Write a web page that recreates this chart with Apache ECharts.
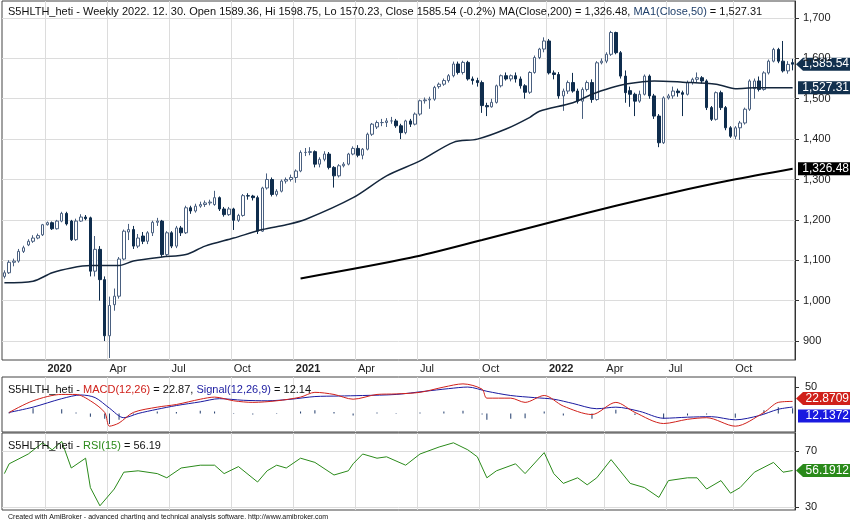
<!DOCTYPE html>
<html>
<head>
<meta charset="utf-8">
<title>S5HLTH weekly</title>
<script src="https://cdn.jsdelivr.net/npm/echarts@6/dist/echarts.min.js"></script>
<style>html,body{margin:0;padding:0;background:#fff}</style>
</head>
<body>
<div id="main" style="width:850px;height:520px"></div>
<script>
// weekly candles [open, close, low, high]
var candles = [
 [1060,1069,1055,1075],[1069,1095,1066,1100],[1095,1098,1085,1104],[1098,1122,1094,1128],[1122,1131,1118,1136],
 [1138,1147,1135,1152],[1147,1155,1143,1162],[1155,1161,1152,1166],[1163,1188,1160,1190],[1188,1193,1186,1196],
 [1193,1178,1175,1196],[1178,1197,1176,1200],[1197,1216,1194,1220],[1216,1190,1186,1220],[1197,1151,1148,1200],
 [1151,1197,1148,1203],[1197,1207,1195,1214],[1207,1203,1199,1212],[1205,1073,1060,1208],[1073,1127,1060,1160],
 [1127,1052,1000,1135],[1052,913,900,1060],[913,988,858,1010],[990,1011,975,1030],[1011,1103,1005,1108],
 [1103,1172,1100,1176],[1170,1176,1150,1190],[1176,1135,1128,1185],[1135,1155,1130,1165],[1160,1147,1140,1170],
 [1147,1168,1140,1172],[1168,1194,1160,1198],[1194,1197,1185,1205],[1197,1114,1108,1200],[1114,1168,1110,1172],
 [1168,1135,1130,1172],[1135,1180,1130,1185],[1180,1168,1160,1185],[1168,1230,1165,1235],[1230,1222,1215,1235],
 [1222,1234,1218,1240],[1234,1238,1230,1245],[1238,1242,1232,1248],[1242,1244,1236,1250],[1238,1255,1235,1272],
 [1255,1227,1222,1258],[1227,1213,1208,1232],[1213,1227,1210,1232],[1227,1199,1175,1230],[1199,1211,1195,1215],
 [1211,1260,1208,1264],[1260,1259,1250,1266],[1259,1255,1248,1262],[1255,1172,1165,1260],[1172,1279,1170,1282],
 [1279,1300,1275,1315],[1300,1263,1258,1305],[1263,1271,1258,1276],[1271,1296,1268,1300],[1296,1300,1290,1305],
 [1300,1305,1295,1312],[1305,1321,1292,1325],[1321,1367,1318,1372],[1367,1367,1358,1378],[1367,1369,1360,1380],
 [1369,1338,1330,1372],[1338,1350,1330,1355],[1350,1363,1345,1370],[1363,1330,1325,1368],[1330,1309,1280,1333],
 [1309,1334,1305,1338],[1334,1338,1330,1343],[1338,1363,1335,1366],[1363,1377,1360,1382],[1377,1360,1355,1385],
 [1360,1375,1350,1378],[1375,1412,1372,1416],[1412,1437,1408,1440],[1430,1441,1425,1446],[1441,1441,1432,1450],
 [1441,1445,1430,1452],[1445,1445,1438,1455],[1445,1433,1428,1450],[1433,1416,1400,1438],[1416,1445,1412,1448],
 [1445,1437,1430,1450],[1437,1462,1434,1466],[1462,1495,1458,1498],[1495,1497,1488,1503],[1497,1499,1475,1505],
 [1499,1528,1495,1532],[1530,1536,1525,1540],[1536,1545,1532,1550],[1545,1557,1540,1561],[1557,1586,1553,1592],
 [1586,1565,1560,1592],[1565,1590,1560,1594],[1590,1549,1545,1594],[1549,1545,1535,1555],[1545,1540,1530,1552],
 [1540,1483,1465,1545],[1483,1480,1457,1490],[1480,1491,1478,1500],[1491,1532,1488,1535],[1532,1557,1528,1560],
 [1557,1549,1545,1565],[1549,1557,1543,1560],[1557,1549,1540,1565],[1549,1532,1525,1555],[1532,1516,1500,1536],
 [1516,1565,1512,1568],[1565,1602,1562,1607],[1602,1623,1598,1626],
 [1623,1643,1615,1652],[1643,1564,1560,1648],[1564,1560,1548,1570],[1560,1507,1500,1566],[1507,1519,1470,1525],
 [1519,1540,1512,1545],[1540,1519,1515,1564],[1519,1494,1488,1525],[1494,1523,1450,1528],[1523,1540,1518,1545],
 [1540,1498,1490,1548],[1498,1589,1495,1593],[1589,1593,1585,1600],[1593,1610,1588,1615],[1610,1664,1606,1668],
 [1664,1614,1610,1666],[1614,1556,1550,1618],[1556,1515,1490,1570],[1520,1511,1480,1530],[1511,1494,1457,1515],
 [1494,1511,1490,1520],[1511,1556,1508,1560],[1556,1507,1500,1560],[1507,1457,1450,1512],[1457,1391,1380,1462],
 [1391,1502,1388,1506],[1502,1507,1498,1512],[1507,1519,1500,1530],[1519,1515,1505,1525],[1515,1511,1457,1520],
 [1511,1540,1508,1545],[1540,1548,1535,1552],[1548,1552,1540,1565],[1552,1544,1538,1556],[1544,1478,1472,1548],
 [1478,1449,1445,1482],[1449,1515,1446,1518],[1515,1478,1472,1520],[1478,1428,1422,1482],[1428,1407,1403,1432],
 [1407,1428,1400,1432],[1428,1440,1398,1445],[1440,1474,1436,1478],[1474,1544,1470,1548],[1525,1544,1500,1550],
 [1544,1523,1518,1555],[1523,1564,1520,1568],[1564,1593,1560,1597],[1593,1622,1590,1626],[1622,1593,1588,1626],
 [1593,1569,1565,1643],[1569,1585,1562,1593],[1589.36,1585.54,1570.23,1598.75]
];
// [week index, value]
var ma50 = [[0,1044],[6,1048],[10,1069],[14,1081],[18,1087],[21,1087],[24,1087],[27,1098],[33,1108],[38,1114],
 [42,1135],[48,1155],[54,1176],[59,1188],[63,1201],[73,1255],[80,1309],[87,1346],[94,1392],[99,1400],[105,1425],
 [110,1454],[112,1469],[119,1490],[123,1511],[127,1527],[130,1536],[136,1544],[142,1541],[149,1536],[153,1525],
 [157,1527],[165,1527.31]];
var ma200 = [[62,1055],[85,1106],[100,1150],[115,1196],[128,1235],[140,1268],[152,1298],[165,1326.48]];
var macd = [[1,2],[6,24],[12,36],[15,36],[18,24],[21,2],[22,-24],[24,-18],[27,2],[32,12],[36,17],[41,27],[44,31],
 [48,24],[52,21],[57,24],[62,31],[65,40],[69,36],[73,27],[78,36],[82,37],[87,40],[92,50],[96,56],[100,46],[101,29],
 [106,29],[109,21],[113,34],[117,14],[123,-2],[128,21],[132,2],[138,-19],[143,-11],[147,-8],[153,-24],[159,2],
 [162,21],[165,22.87]];
var signal = [[1,2],[6,12],[12,28],[16,35],[19,30],[22,10],[25,-8],[28,0],[32,8],[36,15],[41,22],[45,28],[50,25],
 [55,24],[60,27],[65,32],[70,33],[75,34],[82,36],[88,42],[93,47],[97,50],[101,42],[106,34],[111,30],[115,27],
 [119,19],[124,9],[128,12],[133,4],[138,-9],[143,-7],[148,-6],[153,-12],[158,-4],[162,8],[165,12.14]];
var hist = [[1,3],[6,10],[12,8],[15,2],[18,-6],[21,-10],[22,-20],[24,-12],[27,-2],[32,4],[36,3],[41,5],[44,4],
 [48,-1],[52,-2],[57,-1],[62,4],[65,6],[69,3],[73,-4],[78,2],[82,1],[87,2],[92,4],[96,5],[100,-2],[101,-12],
 [106,-10],[109,-9],[113,4],[117,-4],[123,-10],[128,7],[132,-3],[138,-10],[143,-4],[147,-2],[153,-8],[159,6],
 [162,12],[165,10]];
var rsi = [[0,54],[1,61],[5,68],[8,76],[10,71],[12,77],[14,58],[17,65],[18,44],[20,31],[23,43],[25,55],[28,56],
 [32,54],[34,51],[37,58],[41,60],[44,60],[46,54],[49,59],[53,48],[55,56],[57,60],[59,58],[62,65],[65,62],[69,53],
 [72,56],[73,61],[75,68],[78,65],[80,66],[84,60],[87,68],[91,73],[94,76],[97,71],[99,66],[101,51],[103,56],
 [107,61],[109,54],[113,69],[115,54],[117,47],[120,51],[122,46],[124,51],[127,64],[131,47],[134,44],[137,37],
 [139,49],[143,51],[145,51],[147,43],[150,49],[152,40],[154,44],[157,55],[161,62],[163,55],[165,56.19]];
var priceTicks = [900,1000,1100,1200,1300,1400,1500,1600,1700];

var months = ['Jan','Feb','Mar','Apr','May','Jun','Jul','Aug','Sep','Oct','Nov','Dec'];
var dates = [];
var last = Date.UTC(2022, 11, 30);
var n = candles.length;
for (var i = 0; i < n; i++) dates.push(new Date(last - (n - 1 - i) * 7 * 86400000));
var cats = dates.map(function (d) { return d.toISOString().slice(0, 10); });
function isQuarter(i) {
  var d = dates[i];
  return d.getUTCMonth() % 3 === 0 && d.getUTCDate() <= 7;
}
function fmt(v) { return v.toLocaleString('en-US', {minimumFractionDigits: 2, maximumFractionDigits: 2}); }

var chart = echarts.init(document.getElementById('main'));
var font = 'Liberation Sans, Arial, sans-serif';
var xBase = {
  type: 'category', data: cats, boundaryGap: true,
  axisLine: {show: false}, axisTick: {show: false},
  splitLine: {show: true, interval: function (i) { return isQuarter(i); }, lineStyle: {color: '#dcdcdc'}}
};
var option = {
  animation: false,
  textStyle: {fontFamily: font},
  grid: [
    {left: 2, right: 55, top: 1, height: 359, show: true, borderColor: '#444', borderWidth: 1},
    {left: 2, right: 55, top: 377, height: 55, show: true, borderColor: '#444', borderWidth: 1},
    {left: 2, right: 55, top: 433, height: 77, show: true, borderColor: '#444', borderWidth: 1}
  ],
  xAxis: [
    Object.assign({}, xBase, {gridIndex: 0, axisLabel: {
      show: true, interval: function (i) { return isQuarter(i); }, align: 'left', margin: 3,
      fontSize: 11, color: '#222',
      formatter: function (v) {
        var d = new Date(v + 'T00:00:00Z');
        return d.getUTCMonth() === 0 ? '{y|' + d.getUTCFullYear() + '}' : months[d.getUTCMonth()];
      },
      rich: {y: {fontWeight: 'bold', fontSize: 11, color: '#222'}}
    }}),
    Object.assign({}, xBase, {gridIndex: 1, axisLabel: {show: false}}),
    Object.assign({}, xBase, {gridIndex: 2, axisLabel: {show: false}})
  ],
  yAxis: [
    {gridIndex: 0, position: 'right', min: 853, max: 1742, scale: true,
     axisLine: {show: true, lineStyle: {color: '#333'}},
     axisTick: {show: true, customValues: priceTicks, length: 4},
     axisLabel: {customValues: priceTicks, color: '#222', fontSize: 11, margin: 8,
       formatter: function (v) { return v.toLocaleString('en-US'); }},
     splitLine: {show: true, lineStyle: {color: '#dcdcdc'}}},
    {gridIndex: 1, position: 'right', min: -35, max: 69,
     axisLine: {show: true, lineStyle: {color: '#333'}},
     axisTick: {show: true, customValues: [50], length: 4},
     axisLabel: {customValues: [50], color: '#222', fontSize: 11, margin: 10},
     splitLine: {show: false}},
    {gridIndex: 2, position: 'right', min: 28, max: 83,
     axisLine: {show: true, lineStyle: {color: '#333'}},
     axisTick: {show: true, customValues: [30, 70], length: 4},
     axisLabel: {customValues: [30, 70], color: '#222', fontSize: 11, margin: 10},
     splitLine: {show: true, lineStyle: {color: '#dcdcdc'}}}
  ],
  title: [
    {left: 3, top: 1, textStyle: {fontSize: 11, fontWeight: 'normal', color: '#111',
      rich: {n: {color: '#1f3f6a', fontSize: 11}}},
     text: 'S5HLTH_heti - Weekly 2022. 12. 30. Open 1589.36, Hi 1598.75, Lo 1570.23, Close 1585.54 (-0.2%) MA(Close,200) = 1,326.48, {n|MA1(Close,50)} = 1,527.31'},
    {left: 3, top: 379, textStyle: {fontSize: 11, fontWeight: 'normal', color: '#111',
      rich: {r: {color: '#d0201a', fontSize: 11}, b: {color: '#1a1aa0', fontSize: 11}}},
     text: 'S5HLTH_heti - {r|MACD(12,26)} = 22.87, {b|Signal(12,26,9)} = 12.14'},
    {left: 3, top: 435, textStyle: {fontSize: 11, fontWeight: 'normal', color: '#111',
      rich: {g: {color: '#2a8a1a', fontSize: 11}}},
     text: 'S5HLTH_heti - {g|RSI(15)} = 56.19'},
    {left: 3, top: 509, textStyle: {fontSize: 7, fontWeight: 'normal', color: '#111'},
     text: 'Created with AmiBroker - advanced charting and technical analysis software. http://www.amibroker.com'}
  ],
  series: [
    {type: 'candlestick', xAxisIndex: 0, yAxisIndex: 0, data: candles,
     barWidth: 3,
     itemStyle: {color: '#ffffff', color0: '#0f2d4d', borderColor: '#4a6080', borderColor0: '#0f2d4d', borderWidth: 1}},
    {type: 'line', xAxisIndex: 0, yAxisIndex: 0, data: ma50, smooth: 0.3, showSymbol: false,
     lineStyle: {color: '#14263c', width: 1.5}},
    {type: 'line', xAxisIndex: 0, yAxisIndex: 0, data: ma200, smooth: 0.3, showSymbol: false,
     lineStyle: {color: '#000', width: 2}},
    {type: 'bar', xAxisIndex: 1, yAxisIndex: 1, data: hist, barWidth: 1, itemStyle: {color: '#1f3a6a'}},
    {type: 'line', xAxisIndex: 1, yAxisIndex: 1, data: signal, smooth: 0.3, showSymbol: false,
     lineStyle: {color: '#1a1aa0', width: 1}},
    {type: 'line', xAxisIndex: 1, yAxisIndex: 1, data: macd, smooth: 0.3, showSymbol: false,
     lineStyle: {color: '#d0201a', width: 1}},
    {type: 'line', xAxisIndex: 2, yAxisIndex: 2, data: rsi, showSymbol: false,
     lineStyle: {color: '#2a8a1a', width: 1}}
  ]
};
chart.setOption(option);

// value tags on the right axis (MACD pair spread apart like the original)
var tags = [
  {axis: 0, v: 1585.54, dy: 0, text: fmt(1585.54), bg: '#12304e', arrow: true},
  {axis: 0, v: 1527.31, dy: 0, text: fmt(1527.31), bg: '#12304e', arrow: false},
  {axis: 0, v: 1326.48, dy: 0, text: fmt(1326.48), bg: '#000000', arrow: false},
  {axis: 1, v: 22.87, dy: -3, text: '22.8709', bg: '#d0201a', arrow: true},
  {axis: 1, v: 12.14, dy: 9, text: '12.1372', bg: '#1a1ae0', arrow: false},
  {axis: 2, v: 56.19, dy: 0, text: '56.1912', bg: '#2a8a1a', arrow: true}
];
var x0 = 796;
var gfx = tags.map(function (t) {
  var y = chart.convertToPixel({yAxisIndex: t.axis}, t.v) + t.dy;
  var w = 54, h = 13;
  var shape = t.arrow
    ? [[x0, y], [x0 + 7, y - h / 2], [x0 + w, y - h / 2], [x0 + w, y + h / 2], [x0 + 7, y + h / 2]]
    : [[x0 + 2, y - h / 2], [x0 + w, y - h / 2], [x0 + w, y + h / 2], [x0 + 2, y + h / 2]];
  return {type: 'group', children: [
    {type: 'polygon', shape: {points: shape}, style: {fill: t.bg}},
    {type: 'text', x: x0 + w - 1, y: y, style: {text: t.text, fill: '#fff', font: '12px ' + font,
      align: 'right', verticalAlign: 'middle'}}
  ]};
});
chart.setOption({graphic: gfx});
</script>
</body>
</html>
